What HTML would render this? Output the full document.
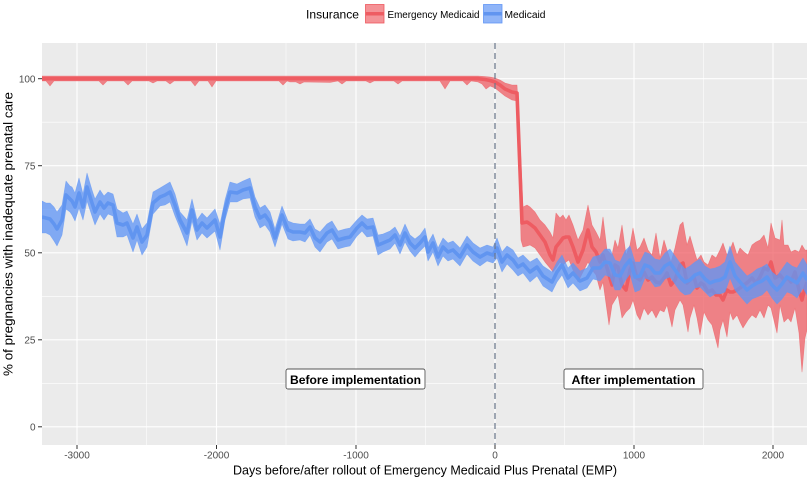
<!DOCTYPE html>
<html><head><meta charset="utf-8"><style>
html,body{margin:0;padding:0;background:#fff;}
svg{display:block;}
text{font-family:"Liberation Sans",Arial,sans-serif;}
</style></head><body>
<svg width="812" height="478" viewBox="0 0 812 478" xmlns="http://www.w3.org/2000/svg">
<defs><clipPath id="p"><rect x="42" y="43" width="765" height="402"/></clipPath></defs>
<rect x="42" y="43" width="765" height="402" fill="#EBEBEB"/>
<g stroke="#fff" stroke-width="0.55">
<line x1="146.5" y1="43" x2="146.5" y2="445"/><line x1="286" y1="43" x2="286" y2="445"/><line x1="425.5" y1="43" x2="425.5" y2="445"/><line x1="564.5" y1="43" x2="564.5" y2="445"/><line x1="703.5" y1="43" x2="703.5" y2="445"/>
<line x1="42" y1="122.2" x2="807" y2="122.2"/><line x1="42" y1="209.3" x2="807" y2="209.3"/><line x1="42" y1="296.3" x2="807" y2="296.3"/><line x1="42" y1="383.3" x2="807" y2="383.3"/>
</g>
<g stroke="#fff" stroke-width="1.1">
<line x1="77" y1="43" x2="77" y2="445"/><line x1="216.5" y1="43" x2="216.5" y2="445"/><line x1="356" y1="43" x2="356" y2="445"/><line x1="495" y1="43" x2="495" y2="445"/><line x1="634" y1="43" x2="634" y2="445"/><line x1="773" y1="43" x2="773" y2="445"/>
<line x1="42" y1="78.7" x2="807" y2="78.7"/><line x1="42" y1="165.7" x2="807" y2="165.7"/><line x1="42" y1="252.8" x2="807" y2="252.8"/><line x1="42" y1="339.8" x2="807" y2="339.8"/><line x1="42" y1="426.8" x2="807" y2="426.8"/>
</g>
<g clip-path="url(#p)" stroke-linejoin="round">
<path fill="rgb(238,88,94)" fill-opacity="0.72" stroke="rgb(238,88,94)" stroke-opacity="0.6" stroke-width="0.6" d="M42,76 L478,76 L485,76.5 L490,77 L495,78 L500,80 L505,83 L512,85 L517,85 L520,140 L523,207 L527,205 L530,207 L535,212 L540,220 L545,225 L550,232 L553,238 L556,213 L560,218 L563,215 L566,220 L569,215 L573,225 L578,240 L583,230 L588,205 L592,225 L596,232 L600,240 L603,217 L607,250 L612,255 L615,240 L618,248 L622,225 L626,255 L630,245 L633,228 L637,250 L640,247 L644,238 L648,250 L652,255 L656,233 L660,258 L664,240 L667,250 L671,262 L675,248 L680,225 L683,222 L687,245 L690,236 L694,250 L697,260 L701,255 L704,262 L708,265 L712,255 L716,258 L720,250 L723,243 L727,255 L730,250 L733,242 L737,255 L740,248 L744,252 L748,255 L752,245 L756,242 L760,240 L764,235 L768,248 L771,223 L775,238 L780,240 L782,220 L784,245 L788,245 L791,252 L795,250 L799,252 L802,245 L805,250 L807,250 L807,330 L805,338 L802,372 L799,333 L795,308 L791,322 L788,318 L784,322 L780,305 L777,333 L771,308 L768,305 L764,318 L760,310 L756,318 L752,315 L748,320 L743,328 L740,322 L737,315 L733,320 L730,312 L727,337 L723,320 L720,330 L718,348 L712,325 L708,320 L704,312 L700,335 L697,318 L694,305 L690,318 L688,332 L683,305 L680,300 L675,310 L672,327 L667,305 L664,312 L660,310 L656,318 L652,310 L648,315 L644,308 L640,320 L637,315 L633,300 L630,308 L626,312 L622,318 L618,295 L615,300 L612,305 L609,325 L603,282 L600,290 L596,275 L592,270 L588,262 L583,272 L578,282 L573,270 L569,260 L566,262 L563,265 L560,262 L556,268 L553,272 L550,268 L545,262 L540,255 L535,248 L530,245 L527,246 L523,247 L521,240 L519,160 L517,101 L512,100 L505,96 L500,92 L495,88 L490,86 L486,89 L482,84 L478,82 L471,81 L467,85 L463,81 L450,81 L445,89 L440,81 L402,81 L398,84 L394,81 L374,81 L370,83 L366,81 L346,81 L342,84 L338,81 L330,82.5 L304,82 L300,84 L296,82 L290,82 L287,81 L283,85 L279,81 L216,81 L212,87 L208,81 L199,81 L195,86 L191,81 L174,81 L170,84 L166,81 L157,81 L153,83 L149,81 L132,81 L128,85 L124,81 L107,81 L103,85 L99,81 L54,81 L50,86 L46,81 L42,81 Z"/>
<polyline fill="none" stroke="#EE5C62" stroke-width="3.6" points="42,78.7 478,78.7 485,79.5 490,80.5 495,82 500,85 505,89 512,92 517,93 522,223 527,222 530,224 535,228 540,235 545,242 550,255 553,260 556,247 560,242 563,238 566,237 569,237 573,247 578,262 583,250 588,230 592,247 596,252 600,262 603,255 607,268 612,285 615,265 618,267 622,285 626,290 630,270 633,263 637,278 640,280 644,272 648,280 652,277 656,282 660,283 664,278 667,273 671,285 675,280 680,265 683,263 687,283 690,280 694,277 697,288 701,283 704,285 708,292 712,290 716,295 720,295 723,300 727,290 730,292 733,292 737,290 740,288 744,285 748,282 752,278 756,283 760,277 764,268 768,270 771,262 775,278 780,275 784,280 788,278 791,282 795,272 799,290 802,300 805,288 807,282"/>
<path fill="rgb(97,150,245)" fill-opacity="0.78" stroke="rgb(97,150,245)" stroke-opacity="0.6" stroke-width="0.6" d="M42,201 L46,203 L50,203 L54,207 L57,212 L62,205 L66,181 L70,186 L72,187 L75,193 L79,178 L83,194 L87,173 L92,190 L95,199 L100,190 L104,196 L108,192 L113,194 L117,209 L123,213 L127,211 L133,224 L137,214 L142,229 L147,223 L153,192 L160,188 L165,185 L170,182 L175,194 L180,212 L187,220 L192,199 L197,220 L202,213 L207,218 L215,209 L220,224 L225,200 L230,182 L237,184 L243,181 L250,178 L255,197 L260,208 L265,205 L270,212 L275,229 L282,206 L288,221 L293,223 L300,224 L305,224 L310,219 L315,229 L320,232 L327,224 L332,221 L338,231 L345,229 L350,228 L357,220 L362,215 L367,219 L373,218 L378,235 L383,234 L390,231 L395,227 L400,236 L405,224 L410,235 L415,239 L420,235 L425,228 L428,243 L433,234 L438,248 L443,238 L448,243 L453,241 L460,248 L467,236 L473,243 L480,248 L487,245 L493,247 L497,238 L502,252 L507,246 L513,250 L518,258 L523,255 L530,262 L537,258 L543,266 L552,272 L557,262 L562,255 L568,268 L573,263 L580,271 L587,268 L593,257 L600,255 L605,249 L610,249 L615,260 L620,262 L625,251 L630,246 L635,262 L640,262 L645,252 L650,254 L655,259 L660,260 L665,253 L670,249 L675,256 L680,263 L685,269 L690,266 L695,262 L700,259 L705,266 L710,269 L715,268 L720,266 L725,262 L730,246 L735,262 L740,268 L747,276 L752,273 L757,269 L762,267 L767,264 L772,272 L777,276 L782,269 L787,262 L792,266 L797,268 L803,258 L807,265 L807,295 L803,288 L797,298 L792,294 L787,292 L782,299 L777,304 L772,298 L767,290 L762,295 L757,297 L752,299 L747,304 L740,296 L735,290 L730,278 L725,292 L720,294 L715,294 L710,297 L705,292 L700,287 L695,288 L690,294 L685,295 L680,291 L675,284 L670,277 L665,279 L660,286 L655,287 L650,280 L645,278 L640,290 L635,292 L630,274 L625,281 L620,290 L615,290 L610,277 L605,275 L600,281 L593,279 L587,288 L580,291 L573,283 L568,288 L562,275 L557,282 L552,292 L543,286 L537,276 L530,282 L523,273 L518,276 L513,270 L507,264 L502,272 L497,258 L493,263 L487,261 L480,266 L473,261 L467,254 L460,266 L453,259 L448,261 L443,256 L438,266 L433,252 L428,261 L425,246 L420,251 L415,257 L410,251 L405,242 L400,254 L395,243 L390,249 L383,252 L378,255 L373,236 L367,237 L362,231 L357,236 L350,246 L345,247 L338,249 L332,239 L327,242 L320,252 L315,247 L310,235 L305,242 L300,240 L293,241 L288,239 L282,224 L275,247 L270,232 L265,225 L260,228 L255,217 L250,198 L243,199 L237,202 L230,202 L225,220 L220,250 L215,231 L207,238 L202,233 L197,240 L192,221 L187,246 L180,228 L175,216 L170,202 L165,205 L160,206 L153,214 L147,247 L142,255 L137,240 L133,252 L127,235 L123,237 L117,237 L113,216 L108,214 L104,220 L100,214 L95,225 L92,216 L87,201 L83,220 L79,208 L75,221 L72,215 L70,212 L66,209 L62,235 L57,246 L54,241 L50,235 L46,233 L42,233 Z"/>
<polyline fill="none" stroke="#6195F0" stroke-width="3.6" points="42,217 46,218 50,219 54,224 57,229 62,220 66,195 70,199 72,201 75,207 79,193 83,207 87,187 92,203 95,212 100,202 104,208 108,203 113,205 117,223 123,225 127,223 133,238 137,227 142,242 147,235 153,203 160,197 165,195 170,192 175,205 180,220 187,233 192,210 197,230 202,223 207,228 215,220 220,237 225,210 230,192 237,193 243,190 250,188 255,207 260,218 265,215 270,222 275,238 282,215 288,230 293,232 300,232 305,233 310,227 315,238 320,242 327,233 332,230 338,240 345,238 350,237 357,228 362,223 367,228 373,227 378,245 383,243 390,240 395,235 400,245 405,233 410,243 415,248 420,243 425,237 428,252 433,243 438,257 443,247 448,252 453,250 460,257 467,245 473,252 480,257 487,253 493,255 497,248 502,262 507,255 513,260 518,267 523,264 530,272 537,267 543,276 552,282 557,272 562,265 568,278 573,273 580,281 587,278 593,268 600,268 605,262 610,263 615,275 620,276 625,266 630,260 635,277 640,276 645,265 650,267 655,273 660,273 665,266 670,263 675,270 680,277 685,282 690,280 695,275 700,273 705,279 710,283 715,281 720,280 725,277 730,262 735,276 740,282 747,290 752,286 757,283 762,281 767,277 772,285 777,290 782,284 787,277 792,280 797,283 803,273 807,280"/>
<line x1="495" y1="43" x2="495" y2="445" stroke="#6B778C" stroke-width="1.2" stroke-dasharray="6,4"/>
</g>
<rect x="286" y="369" width="139" height="20" rx="2" fill="#fff" stroke="#555" stroke-width="0.9"/>
<text x="355.5" y="384" font-size="12" font-weight="bold" text-anchor="middle" fill="#000" textLength="131" lengthAdjust="spacingAndGlyphs">Before implementation</text>
<rect x="564" y="369" width="139" height="20" rx="2" fill="#fff" stroke="#555" stroke-width="0.9"/>
<text x="633.5" y="384" font-size="12" font-weight="bold" text-anchor="middle" fill="#000" textLength="124" lengthAdjust="spacingAndGlyphs">After implementation</text>
<g stroke="#333" stroke-width="1">
<line x1="38" y1="78.7" x2="42" y2="78.7"/><line x1="38" y1="165.7" x2="42" y2="165.7"/><line x1="38" y1="252.8" x2="42" y2="252.8"/><line x1="38" y1="339.8" x2="42" y2="339.8"/><line x1="38" y1="426.8" x2="42" y2="426.8"/>
<line x1="77" y1="445" x2="77" y2="449"/><line x1="216.5" y1="445" x2="216.5" y2="449"/><line x1="356" y1="445" x2="356" y2="449"/><line x1="495" y1="445" x2="495" y2="449"/><line x1="634" y1="445" x2="634" y2="449"/><line x1="773" y1="445" x2="773" y2="449"/>
</g>
<g font-size="10" fill="#4D4D4D" text-anchor="end">
<text x="35.5" y="82.3">100</text><text x="35.5" y="169.3">75</text><text x="35.5" y="256.4">50</text><text x="35.5" y="343.4">25</text><text x="35.5" y="430.4">0</text>
</g>
<g font-size="10" fill="#4D4D4D" text-anchor="middle">
<text x="77" y="458.5">-3000</text><text x="216.5" y="458.5">-2000</text><text x="356" y="458.5">-1000</text><text x="495" y="458.5">0</text><text x="634" y="458.5">1000</text><text x="773" y="458.5">2000</text>
</g>
<text x="233" y="474.5" font-size="13" fill="#000" textLength="384" lengthAdjust="spacingAndGlyphs">Days before/after rollout of Emergency Medicaid Plus Prenatal (EMP)</text>
<text transform="translate(12.5,234) rotate(-90)" x="0" y="0" font-size="12.5" fill="#000" text-anchor="middle" textLength="284" lengthAdjust="spacingAndGlyphs">% of pregnancies with inadequate prenatal care</text>
<text x="306" y="18.5" font-size="12" fill="#000" textLength="53" lengthAdjust="spacingAndGlyphs">Insurance</text>
<rect x="365.5" y="4.5" width="18.5" height="18.5" fill="rgb(238,88,94)" fill-opacity="0.65" stroke="rgb(238,88,94)" stroke-width="0.8"/>
<line x1="365.5" y1="13.75" x2="384" y2="13.75" stroke="#EE5C62" stroke-width="3.6"/>
<text x="387.5" y="18" font-size="10" fill="#000" textLength="92" lengthAdjust="spacingAndGlyphs">Emergency Medicaid</text>
<rect x="483.5" y="4.5" width="18.5" height="18.5" fill="rgb(97,150,245)" fill-opacity="0.7" stroke="rgb(97,150,245)" stroke-width="0.8"/>
<line x1="483.5" y1="13.75" x2="502" y2="13.75" stroke="#6195F0" stroke-width="3.6"/>
<text x="504.5" y="18" font-size="10" fill="#000" textLength="41" lengthAdjust="spacingAndGlyphs">Medicaid</text>
</svg>
</body></html>
